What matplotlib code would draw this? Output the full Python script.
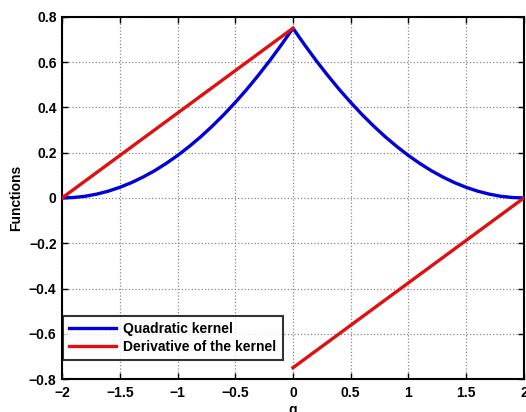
import numpy as np
import matplotlib
matplotlib.use("Agg")
import matplotlib.pyplot as plt

# Data
q_kernel = [-2.0, -1.9, -1.8, -1.7, -1.6, -1.5, -1.4, -1.3, -1.2, -1.1, -1.0,
            -0.9, -0.8, -0.7, -0.6, -0.5, -0.4, -0.3, -0.2, -0.1, 0.0,
            0.1, 0.2, 0.3, 0.4, 0.5, 0.6, 0.7, 0.8, 0.9, 1.0,
            1.1, 1.2, 1.3, 1.4, 1.5, 1.6, 1.7, 1.8, 1.9, 2.0]
w_kernel = [0.0, 0.002, 0.0075, 0.017, 0.03, 0.047, 0.0675, 0.092, 0.12, 0.152, 0.1875,
            0.227, 0.27, 0.317, 0.3675, 0.422, 0.48, 0.542, 0.6075, 0.677, 0.75,
            0.677, 0.6075, 0.542, 0.48, 0.422, 0.3675, 0.317, 0.27, 0.227, 0.1875,
            0.152, 0.12, 0.092, 0.0675, 0.047, 0.03, 0.017, 0.0075, 0.002, 0.0]
q_deriv = [-2.0, 0.0, np.nan, 0.0, 2.0]
w_deriv = [0.0, 0.75, np.nan, -0.75, 0.0]

xticks = [-2, -1.5, -1, -0.5, 0, 0.5, 1, 1.5, 2]
xtick_labels = ["\u22122", "\u22121.5", "\u22121", "\u22120.5", "0", "0.5", "1", "1.5", "2"]
yticks = [-0.8, -0.6, -0.4, -0.2, 0, 0.2, 0.4, 0.6, 0.8]
ytick_labels = ["\u22120.8", "\u22120.6", "\u22120.4", "\u22120.2", "0", "0.2", "0.4", "0.6", "0.8"]

plt.rcParams['font.family'] = ['Liberation Sans', 'DejaVu Sans']
plt.rcParams['font.weight'] = 'bold'

fig = plt.figure(figsize=(5.26, 4.12), dpi=100)
ax = fig.add_axes([0.118, 0.080, 0.878, 0.879])

ax.plot(q_kernel, w_kernel, color='#0000d8', lw=2.4, label='Quadratic kernel', zorder=3)
ax.plot(q_deriv, w_deriv, color='#e01010', lw=2.4, label='Derivative of the kernel', zorder=3)

ax.set_xlim(-2, 2)
ax.set_ylim(-0.8, 0.8)
ax.set_xticks(xticks)
ax.set_xticklabels(xtick_labels, fontsize=10, fontweight='bold')
ax.set_yticks(yticks)
ax.set_yticklabels(ytick_labels, fontsize=10, fontweight='bold')
ax.tick_params(direction='in', top=True, right=True, length=4, width=1)
ax.tick_params(axis='x', pad=5)
ax.tick_params(axis='y', pad=4)
ax.grid(True, linestyle=':', color='#888888', linewidth=0.9)
for s in ax.spines.values():
    s.set_linewidth(1.5)

ax.set_ylabel('Functions', fontsize=10, fontweight='bold', labelpad=4)
ax.set_xlabel('q', fontsize=10, fontweight='bold', labelpad=2)

leg = ax.legend(loc='lower left', bbox_to_anchor=(0.002, 0.052), fontsize=10,
                frameon=True, fancybox=False, edgecolor='black', borderaxespad=0,
                handlelength=3.4, handletextpad=0.5, borderpad=0.45, labelspacing=0.3)
leg.get_frame().set_linewidth(1.5)
for t in leg.get_texts():
    t.set_fontweight('bold')

fig.savefig('out.png', dpi=100)
